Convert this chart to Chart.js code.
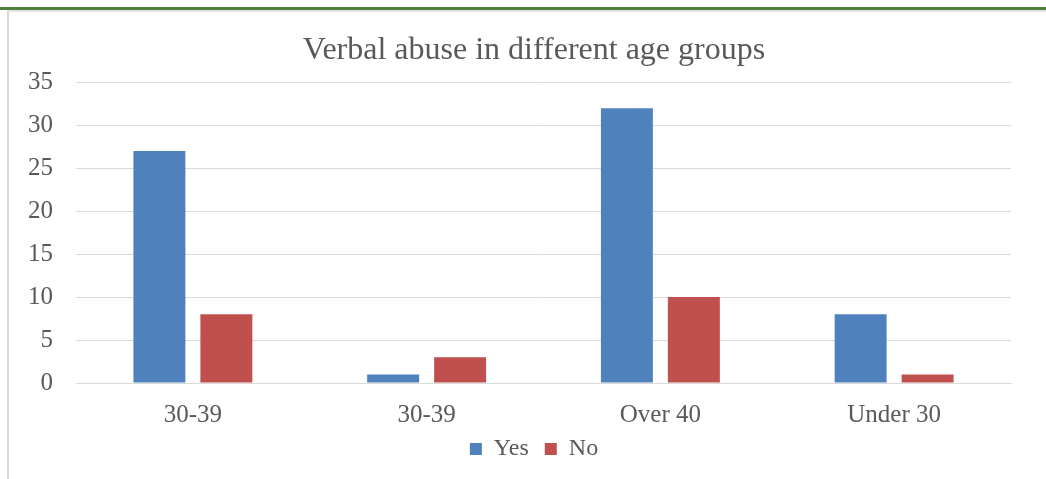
<!DOCTYPE html>
<html>
<head>
<meta charset="utf-8">
<script src="https://cdn.jsdelivr.net/npm/chart.js@4"></script>
<style>
  html,body{margin:0;padding:0;background:#fff;}
  #wrap{position:relative;width:1046px;height:479px;overflow:hidden;}
  #frame{position:absolute;left:7px;top:10px;right:-2px;bottom:-2px;border-left:2px solid #d9d9d9;border-top:2px solid #e3e3e3;}
  #topline{position:absolute;left:0;top:7px;width:1046px;height:3px;background:#4f7f38;}
  canvas{position:absolute;left:0;top:0;}
</style>
</head>
<body>
<div id="wrap">
  <div id="frame"></div>
  <div id="topline"></div>
  <canvas id="chart" width="1046" height="479"></canvas>
</div>
<script>
const ageGroups=['30-39','30-39','Over 40','Under 30'];
const yesValues=[27,1,32,8];
const noValues=[8,3,10,1];
const textColor='#595959';
const serif="'Liberation Serif', 'DejaVu Serif', serif";

// the axis boxes are kept tight so title, plot and legend sit where wanted;
// widen their label clip areas once the layout is done
const widenLabelArea={
  id:'widenLabelArea',
  afterLayout(chart){
    chart.scales.y.left=0;
    chart.scales.x.bottom=chart.height;
  }
};

new Chart(document.getElementById('chart'),{
  type:'bar',
  data:{
    labels:ageGroups,
    datasets:[
      {label:'Yes',data:yesValues,backgroundColor:'#4f81bd'},
      {label:'No',data:noValues,backgroundColor:'#c0504d'}
    ]
  },
  options:{
    responsive:false,animation:false,
    layout:{padding:{left:57,right:35,top:0,bottom:8}},
    datasets:{bar:{categoryPercentage:0.573,barPercentage:0.776}},
    plugins:{
      title:{display:true,text:'Verbal abuse in different age groups',color:textColor,
        font:{family:serif,size:32,weight:'normal'},padding:{top:31,bottom:13}},
      legend:{position:'bottom',labels:{color:textColor,boxWidth:12,boxHeight:12,padding:16,
        font:{family:serif,size:24}}},
      tooltip:{enabled:false}
    },
    scales:{
      x:{grid:{display:false,drawTicks:false},border:{color:'#d9d9d9'},afterFit:s=>{s.height=38;},
        ticks:{color:textColor,padding:17,font:{family:serif,size:25}}},
      y:{min:0,max:35,afterFit:s=>{s.width=19;},
        grid:{color:'#d9d9d9',drawTicks:false},border:{display:false},
        ticks:{stepSize:5,color:textColor,padding:23,font:{family:serif,size:25}}}
    }
  },
  plugins:[widenLabelArea]
});
</script>
</body>
</html>
